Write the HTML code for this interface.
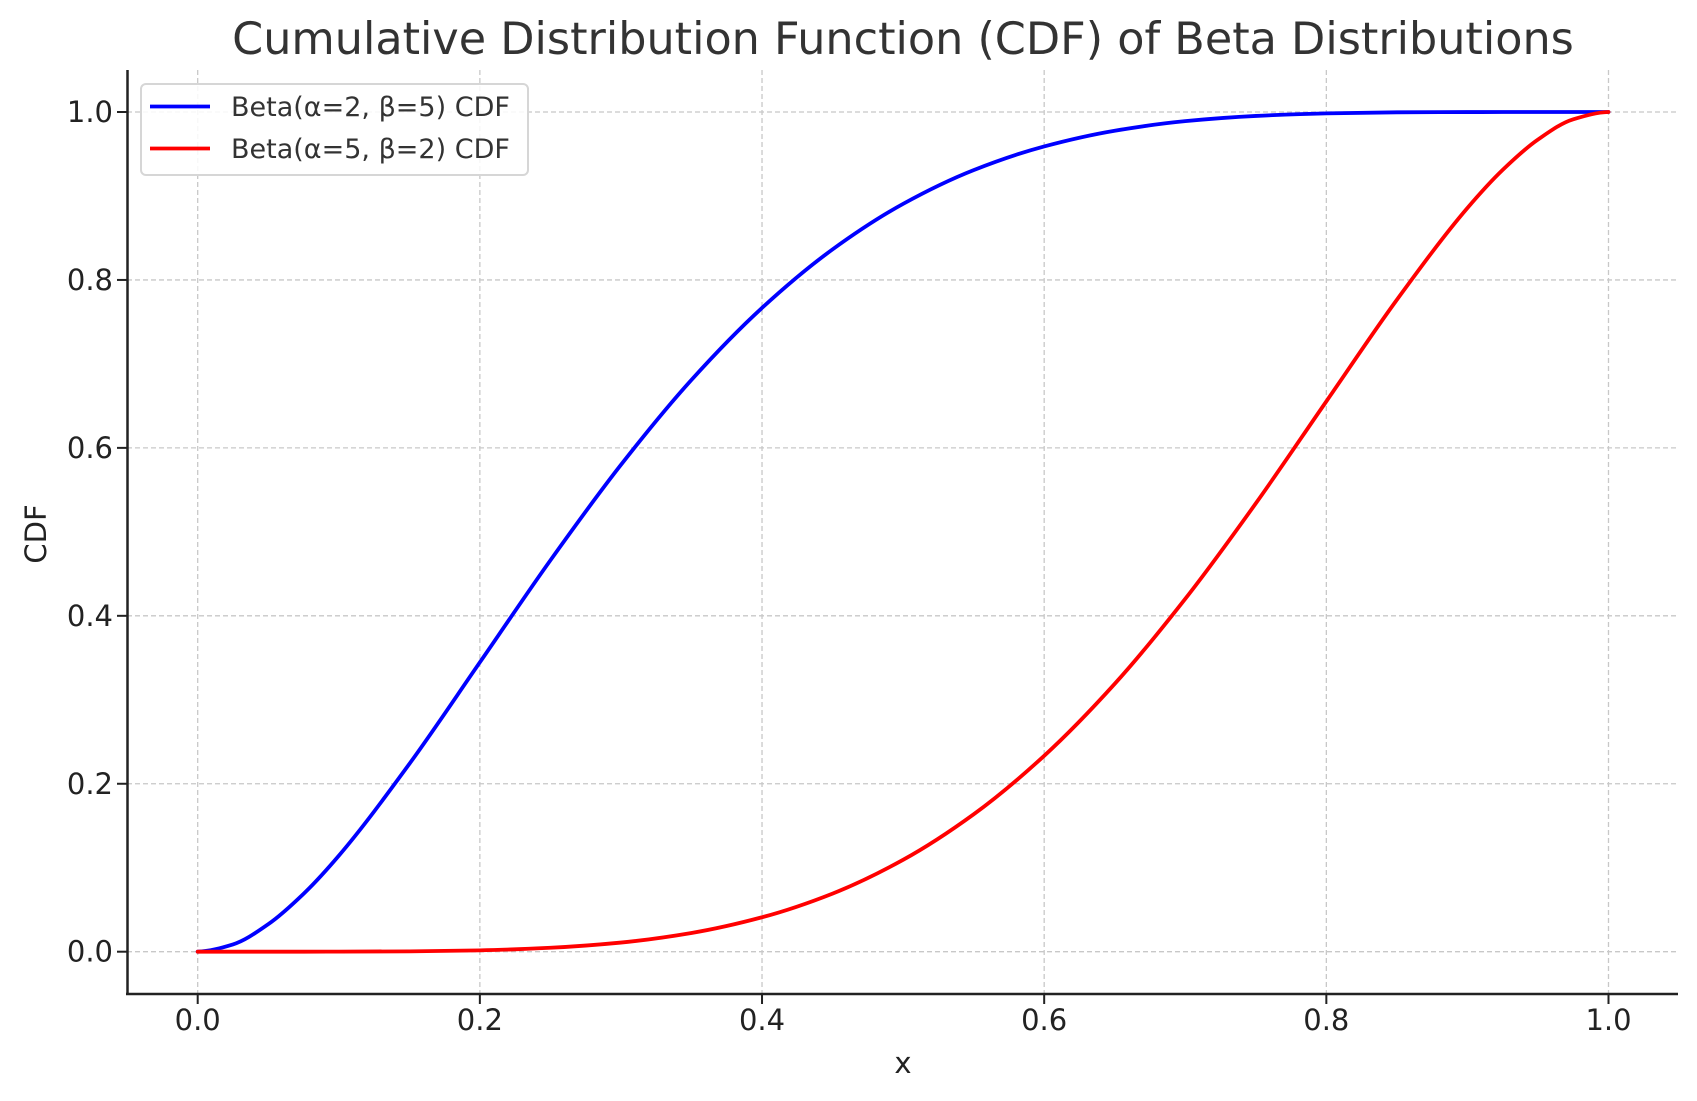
<!DOCTYPE html>
<html><head><meta charset="utf-8"><style>
html,body{margin:0;padding:0;background:#fff}
svg{display:block;font-family:"DejaVu Sans","Liberation Sans",sans-serif}
</style></head><body>
<svg id="chart" width="1697" height="1101" viewBox="0 0 1697 1101">
<text x="903" y="54" font-size="44.5" fill="#333" text-anchor="middle">Cumulative Distribution Function (CDF) of Beta Distributions</text>
<g id="grid"></g>
<g id="axes"></g>
<g id="series"></g>
<text x="903" y="1073" font-size="29" fill="#222" text-anchor="middle">x</text>
<text x="0" y="0" font-size="29" fill="#222" text-anchor="middle" transform="translate(46,534) rotate(-90)">CDF</text>
<g>
<rect x="141" y="84" width="387" height="91" rx="5" fill="#fff" fill-opacity="0.85" stroke="#d6d6d6" stroke-width="2"/>
<line x1="150" y1="106.5" x2="210" y2="106.5" stroke="#0000ff" stroke-width="3.8"/>
<text x="231" y="116" font-size="27" fill="#333">Beta(α=2, β=5) CDF</text>
<line x1="150" y1="148.5" x2="210" y2="148.5" stroke="#ff0000" stroke-width="3.8"/>
<text x="231" y="158" font-size="27" fill="#333">Beta(α=5, β=2) CDF</text>
</g>
</svg>
<script>
const xValues=[0,0.025,0.05,0.075,0.1,0.15,0.2,0.25,0.3,0.35,0.4,0.45,0.5,0.55,0.6,0.65,0.7,0.75,0.8,0.85,0.9,0.925,0.95,0.975,1];
const blueValues=[0,0.0087,0.0328,0.0689,0.1143,0.2236,0.3446,0.4661,0.5798,0.6810,0.7667,0.8364,0.8906,0.9308,0.9590,0.9777,0.9891,0.9953,0.9984,0.9996,0.9999,1,1,1,1];
const redValues=[0,0,0,0.00003,0.0001,0.0004,0.0016,0.0047,0.0109,0.0223,0.0410,0.0692,0.1094,0.1636,0.2333,0.3190,0.4202,0.5339,0.6554,0.7764,0.8857,0.9311,0.9672,0.9913,1];
const xTicks=[0,0.2,0.4,0.6,0.8,1.0];
const yTicks=[0,0.2,0.4,0.6,0.8,1.0];
const tickLabels=["0.0","0.2","0.4","0.6","0.8","1.0"];
const NS="http://www.w3.org/2000/svg";
const X=v=>197.7+v*1410.8;
const Y=v=>951.7-v*839.7;
function mk(tag,attrs,parent){const e=document.createElementNS(NS,tag);for(const k in attrs)e.setAttribute(k,attrs[k]);parent.appendChild(e);return e;}
const grid=document.getElementById('grid'),axes=document.getElementById('axes'),series=document.getElementById('series');
xTicks.forEach((t,i)=>{
 const g=mk('line',{x1:X(t),x2:X(t),y1:70,y2:994,stroke:'#c8c8c8','stroke-width':1.3,'stroke-dasharray':'5,3'},grid);
 
 
 const tk=mk('line',{x1:X(t),x2:X(t),y1:994,y2:1004,stroke:'#222','stroke-width':2},axes);
 
 
 const lb=mk('text',{x:X(t),y:1030,'font-size':29,fill:'#222','text-anchor':'middle'},axes);
 lb.textContent=tickLabels[i];
 
 
});
yTicks.forEach((t,i)=>{
 const g=mk('line',{x1:127,x2:1678,y1:Y(t),y2:Y(t),stroke:'#c8c8c8','stroke-width':1.3,'stroke-dasharray':'5,3'},grid);
 
 
 const tk=mk('line',{x1:117,x2:127,y1:Y(t),y2:Y(t),stroke:'#222','stroke-width':2},axes);
 
 
 const lb=mk('text',{x:113,y:Y(t)+10,'font-size':29,fill:'#222','text-anchor':'end'},axes);
 lb.textContent=tickLabels[i];
 
 
});
const sl=mk('line',{x1:127.5,x2:127.5,y1:70,y2:995,stroke:'#222','stroke-width':2.5},axes);


const sb=mk('line',{x1:126,x2:1678,y1:994,y2:994,stroke:'#222','stroke-width':2.5},axes);


function pathFor(vals){
 const n=xValues.length,h=[],s=[],m=new Array(n);
 for(let i=0;i<n-1;i++){h.push(xValues[i+1]-xValues[i]);s.push((vals[i+1]-vals[i])/h[i]);}
 m[0]=Math.max(0,((2*h[0]+h[1])*s[0]-h[0]*s[1])/(h[0]+h[1]));
 m[n-1]=Math.max(0,((2*h[n-2]+h[n-3])*s[n-2]-h[n-2]*s[n-3])/(h[n-2]+h[n-3]));
 for(let i=1;i<n-1;i++){
  if(s[i-1]*s[i]<=0)m[i]=0;
  else{const w1=2*h[i]+h[i-1],w2=h[i]+2*h[i-1];m[i]=(w1+w2)/(w1/s[i-1]+w2/s[i]);}
 }
 let d='M'+X(xValues[0])+','+Y(vals[0]);
 for(let i=0;i<n-1;i++){
  const x0=xValues[i],x1=xValues[i+1],y0=vals[i],y1=vals[i+1],dh=h[i]/3;
  d+=' C'+X(x0+dh)+','+Y(y0+m[i]*dh)+' '+X(x1-dh)+','+Y(y1-m[i+1]*dh)+' '+X(x1)+','+Y(y1);
 }
 return d;
}
const bl=mk('path',{d:pathFor(blueValues),fill:'none',stroke:'#0000ff','stroke-width':3.8,'stroke-linecap':'round'},series);


const rl=mk('path',{d:pathFor(redValues),fill:'none',stroke:'#ff0000','stroke-width':3.8,'stroke-linecap':'round'},series);


</script>
</body></html>
